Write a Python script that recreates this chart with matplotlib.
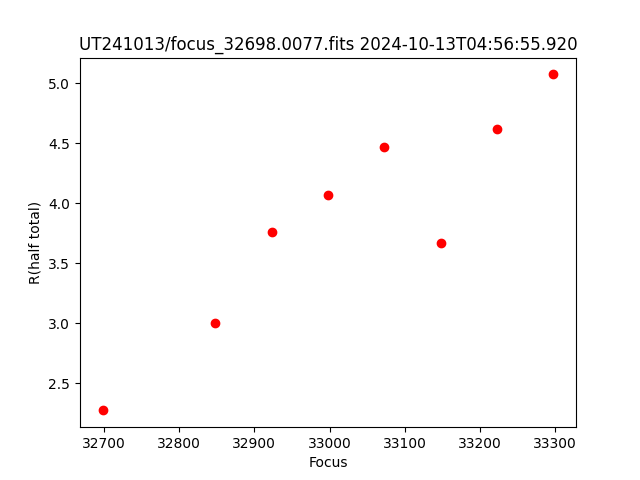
import matplotlib
matplotlib.use("Agg")
import matplotlib.pyplot as plt

# focus positions and measured half-total radius
focus = [32698, 32848, 32923, 32998, 33073, 33148, 33223, 33298]
r_half = [2.275, 3.0, 3.758, 4.067, 4.467, 3.667, 4.617, 5.075]

fig, ax = plt.subplots(figsize=(6.4, 4.8), dpi=100)
ax.plot(focus, r_half, 'ro')
ax.set_xlabel('Focus')
ax.set_ylabel('R(half total)')
ax.set_title('UT241013/focus_32698.0077.fits 2024-10-13T04:56:55.920')

fig.savefig('out.png')
